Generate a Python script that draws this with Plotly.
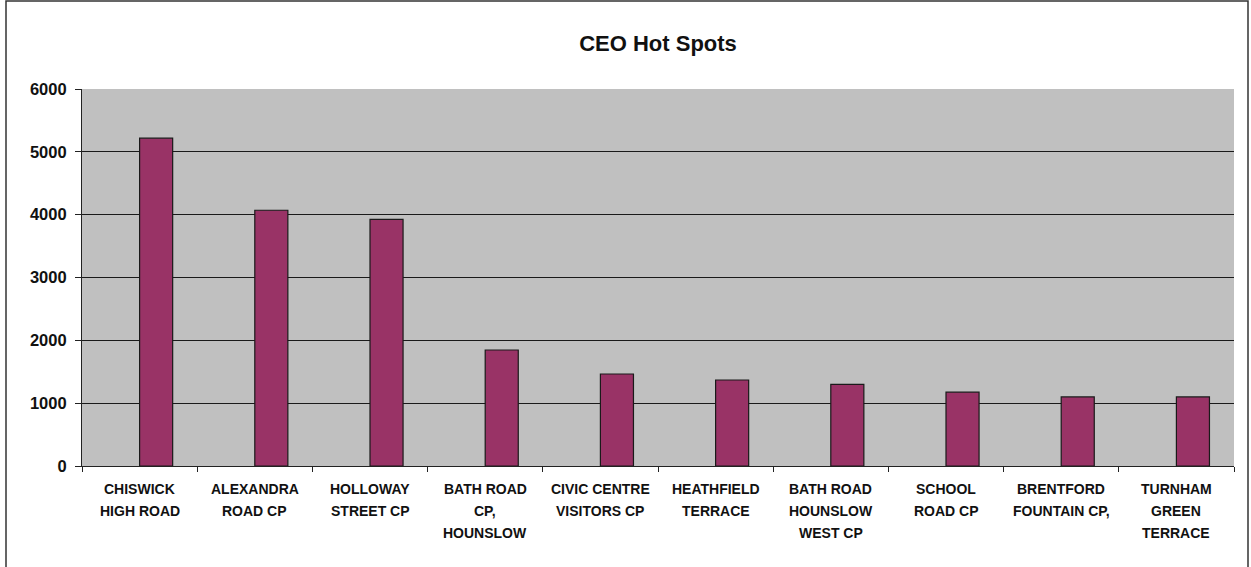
import plotly.graph_objects as go

categories = [
    "CHISWICK<br>HIGH ROAD",
    "ALEXANDRA<br>ROAD CP",
    "HOLLOWAY<br>STREET CP",
    "BATH ROAD<br>CP,<br>HOUNSLOW",
    "CIVIC CENTRE<br>VISITORS CP",
    "HEATHFIELD<br>TERRACE",
    "BATH ROAD<br>HOUNSLOW<br>WEST CP",
    "SCHOOL<br>ROAD CP",
    "BRENTFORD<br>FOUNTAIN CP,",
    "TURNHAM<br>GREEN<br>TERRACE",
]
values = [5218, 4070, 3925, 1846, 1464, 1369, 1300, 1175, 1100, 1100]
y_ticks = [0, 1000, 2000, 3000, 4000, 5000, 6000]

FONT = "Liberation Sans, Arial"

# bars start at the category centre (as in the original Excel chart)
fig = go.Figure(
    go.Bar(
        x=categories,
        y=values,
        width=0.287,
        offset=0,
        marker=dict(color="#993366", line=dict(color="#1a1a1a", width=1.2)),
    )
)

fig.update_layout(
    width=1251,
    height=567,
    margin=dict(l=82, r=17, t=89, b=101),
    paper_bgcolor="white",
    plot_bgcolor="#C0C0C0",
    showlegend=False,
    title=dict(
        text="<b>CEO Hot Spots</b>",
        x=0.5,
        xanchor="center",
        xref="paper",
        y=1 - 43 / 567,
        yanchor="middle",
        font=dict(family=FONT, size=22, color="#111111"),
    ),
    font=dict(family=FONT, color="#111111"),
)

fig.update_xaxes(
    type="category",
    range=[-0.5, len(categories) - 0.5],
    tickson="boundaries",
    ticks="outside",
    ticklen=5,
    tickcolor="#222222",
    showline=True,
    linecolor="#222222",
    linewidth=1.2,
    showgrid=False,
    showticklabels=False,
)

fig.update_yaxes(
    range=[0, 6000],
    tickvals=y_ticks,
    ticks="outside",
    ticklen=6,
    tickcolor="#222222",
    showline=True,
    linecolor="#222222",
    linewidth=1.2,
    showgrid=True,
    gridcolor="#1a1a1a",
    gridwidth=1.2,
    zeroline=False,
    ticklabelstandoff=5,
    tickfont=dict(size=16.5, family=FONT, weight="bold"),
)

# multi-line category labels with wider line spacing
for cat in categories:
    for i, line in enumerate(cat.split("<br>")):
        fig.add_annotation(
            x=cat,
            xref="x",
            y=0,
            yref="paper",
            yanchor="middle",
            yshift=-23 - 22 * i,
            text="<b>" + line + "</b>",
            showarrow=False,
            font=dict(family=FONT, size=14, color="#111111"),
        )

# outer frame of the chart (bottom edge lies below the page)
fig.add_shape(
    type="rect",
    xref="paper",
    yref="paper",
    x0=(6 - 82) / 1152,
    x1=(1248 - 82) / 1152,
    y0=-0.3,
    y1=(466 - 1) / 377,
    line=dict(color="#333333", width=1.5),
    layer="below",
)

fig.write_html(
    "out.html",
    config={"displayModeBar": False},
    post_script="document.body.style.margin='0';",
)
